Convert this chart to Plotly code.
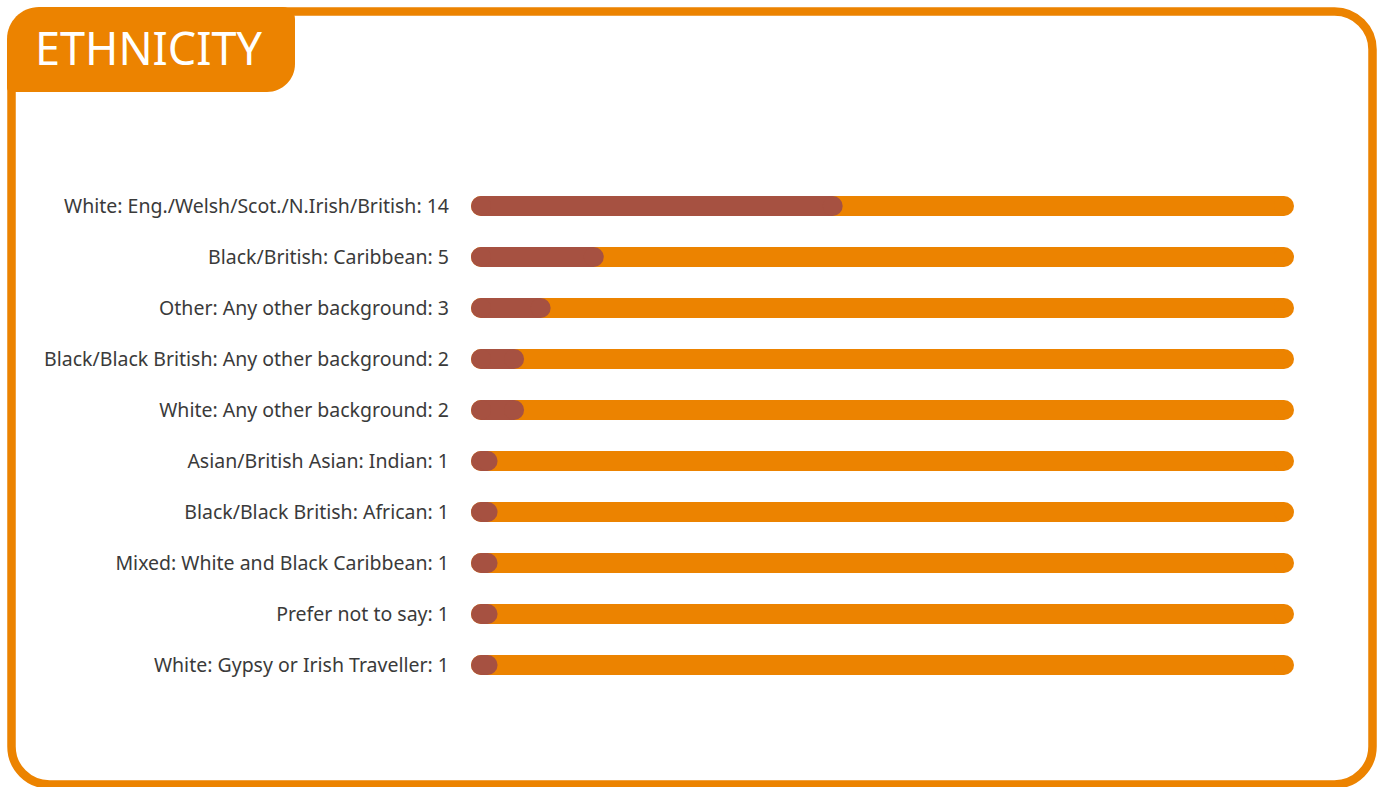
import plotly.graph_objects as go

categories = [
    "White: Eng./Welsh/Scot./N.Irish/British",
    "Black/British: Caribbean",
    "Other: Any other background",
    "Black/Black British: Any other background",
    "White: Any other background",
    "Asian/British Asian: Indian",
    "Black/Black British: African",
    "Mixed: White and Black Caribbean",
    "Prefer not to say",
    "White: Gypsy or Irish Traveller",
]
counts = [14, 5, 3, 2, 2, 1, 1, 1, 1, 1]
title_text = "ETHNICITY"

ORANGE = "#EC8300"
BROWN = "#A65141"
W, H = 1382, 787
total = sum(counts)

x0_px, x1_px = 471, 1294
bar_px = 20
r_data = (bar_px / 2) * total / (x1_px - x0_px)

labels = [f"{c}: {v}" for c, v in zip(categories, counts)]
ypos = list(range(len(categories)))

def seg(values):
    xs, ys = [], []
    for i, v in zip(ypos, values):
        xs += [r_data, v - r_data, None]
        ys += [i, i, None]
    return xs, ys

fig = go.Figure()
tx, ty = seg([total] * len(counts))
fig.add_trace(go.Scatter(x=tx, y=ty, mode="lines+markers",
                         line=dict(color=ORANGE, width=bar_px),
                         marker=dict(color=ORANGE, size=bar_px, line=dict(width=0)),
                         hoverinfo="skip", showlegend=False))
vx, vy = seg(counts)
fig.add_trace(go.Scatter(x=vx, y=vy, mode="lines+markers",
                         line=dict(color=BROWN, width=bar_px),
                         marker=dict(color=BROWN, size=bar_px, line=dict(width=0)),
                         hoverinfo="skip", showlegend=False))

# helpers for paper-coordinate paths built from pixel geometry
def px(x):
    return x / W

def py(y):
    return 1 - y / H

K = 0.5523

def rounded_path(l, t, r, b, rtl, rtr, rbr, rbl):
    p = []
    p.append(f"M {px(l)},{py(t + rtl)}")
    p.append(f"C {px(l)},{py(t + rtl - K*rtl)} {px(l + rtl - K*rtl)},{py(t)} {px(l + rtl)},{py(t)}")
    p.append(f"L {px(r - rtr)},{py(t)}")
    p.append(f"C {px(r - rtr + K*rtr)},{py(t)} {px(r)},{py(t + rtr - K*rtr)} {px(r)},{py(t + rtr)}")
    p.append(f"L {px(r)},{py(b - rbr)}")
    p.append(f"C {px(r)},{py(b - rbr + K*rbr)} {px(r - rbr + K*rbr)},{py(b)} {px(r - rbr)},{py(b)}")
    p.append(f"L {px(l + rbl)},{py(b)}")
    p.append(f"C {px(l + rbl - K*rbl)},{py(b)} {px(l)},{py(b - rbl + K*rbl)} {px(l)},{py(b - rbl)}")
    p.append("Z")
    return " ".join(p)

shapes = [
    dict(type="path", xref="paper", yref="paper", layer="above",
         path=rounded_path(11.5, 11.5, 1372.5, 784.5, 38, 38, 38, 38),
         line=dict(color=ORANGE, width=8.5), fillcolor="rgba(0,0,0,0)"),
    dict(type="path", xref="paper", yref="paper", layer="above",
         path=rounded_path(7, 7, 295, 92, 32, 12, 28, 4),
         line=dict(width=0), fillcolor=ORANGE),
]

fig.update_layout(
    width=W, height=H,
    margin=dict(l=0, r=0, t=0, b=0),
    paper_bgcolor="white", plot_bgcolor="white",
    shapes=shapes,
    xaxis=dict(domain=[x0_px / W, x1_px / W], range=[0, total], visible=False,
               fixedrange=True),
    yaxis=dict(domain=[(H - 690.5) / H, (H - 180.5) / H], range=[9.5, -0.5],
               tickmode="array", tickvals=ypos, ticktext=labels,
               showgrid=False, zeroline=False, showline=False, ticks="",
               ticklabelstandoff=21, fixedrange=True,
               tickfont=dict(family="Noto Sans", size=19.5, color="#3a3a3a")),
    annotations=[dict(text=title_text, xref="paper", yref="paper",
                      x=px(149), y=py(48), xanchor="center", yanchor="middle",
                      showarrow=False,
                      font=dict(family="Noto Sans", size=45, color="white"))],
)

fig.write_html("out.html",
               config={"displayModeBar": False},
               post_script="document.body.style.margin='0';document.body.style.overflow='hidden';")
